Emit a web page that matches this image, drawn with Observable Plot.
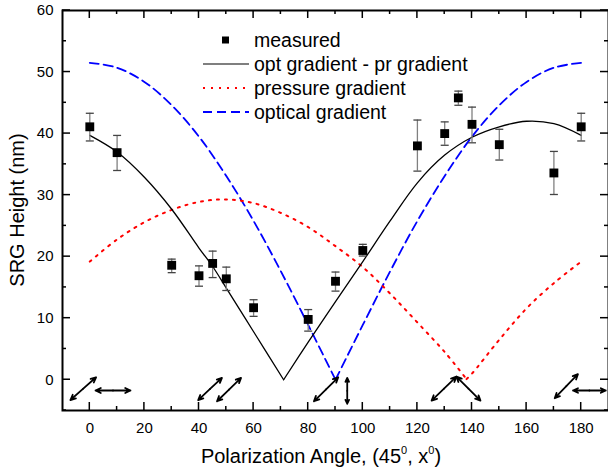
<!DOCTYPE html>
<html><head><meta charset="utf-8">
<script src="https://cdn.jsdelivr.net/npm/d3@7"></script>
<script src="https://cdn.jsdelivr.net/npm/@observablehq/plot@0.6"></script>
<style>body{margin:0;background:#fff} svg{display:block}</style>
</head><body><div id="chart"></div>
<script>
// measured SRG heights (nm) with error bars
const measAngle  = [0, 10, 30, 40, 45, 50, 60, 80, 90, 100, 120, 130, 135, 140, 150, 170, 180];
const measHeight = [41.1, 36.9, 18.6, 16.9, 18.9, 16.4, 11.7, 9.8, 16.0, 21.0, 38.0, 40.0, 45.8, 41.5, 38.2, 33.6, 41.1];
const measLow    = [38.8, 34.0, 17.4, 15.2, 16.6, 14.5, 10.3, 7.9, 14.4, 20.1, 33.9, 38.1, 44.6, 38.5, 35.7, 30.1, 38.8];
const measHigh   = [43.3, 39.7, 19.6, 18.5, 20.9, 18.3, 13.0, 11.4, 17.5, 22.0, 42.2, 41.9, 46.9, 44.3, 40.7, 37.1, 43.3];

// optical gradient (blue dashed)
const optAngle = [0, 10, 20, 30, 40, 50, 60, 70, 80, 90, 100, 110, 120, 130, 140, 150, 160, 170, 180];
const optValue = [51.5, 50.7, 48.4, 44.6, 39.5, 33.1, 25.8, 17.6, 8.9, 0, 8.9, 17.6, 25.8, 33.1, 39.5, 44.6, 48.4, 50.7, 51.5];

// pressure gradient (red dotted)
const prAngle = [0, 10, 20, 30, 40, 50, 60, 70, 80, 90, 100, 110, 120, 130, 138, 140, 150, 160, 170, 180];
const prValue = [19.2, 22.8, 25.6, 27.6, 28.9, 29.3, 28.7, 27.1, 24.8, 21.7, 18.3, 14.0, 9.3, 4.5, 0.1, 1.0, 6.5, 11.6, 15.7, 19.2];

// opt gradient - pr gradient (black solid)
const diffAngle = [0, 10, 20, 30, 40, 45, 50, 60, 71, 80, 90, 100, 110, 120, 130, 140, 150, 160, 170, 180];
const diffValue = [39.7, 37.0, 32.9, 27.7, 21.4, 18.4, 14.9, 7.8, 0, 6.1, 12.7, 19.2, 25.8, 32.0, 36.5, 39.4, 41.1, 42.0, 41.6, 39.7];

// polarization arrows drawn below zero (angle, height) end points
const polX1 = [-7.1, 2.1, 39.7, 46.6, 82.1, 94.3, 125.2, 134.3, 170.3, 177.0];
const polY1 = [-3.3, -1.75, -3.3, -3.5, -3.5, -3.9, -3.4, 0.5, -3.0, -1.75];
const polX2 = [2.3, 14.9, 48.4, 55.4, 91.0, 94.3, 134.3, 143.1, 178.8, 189.0];
const polY2 = [0.4, -1.75, 0.3, 0.3, 0.4, 0.3, 0.5, -3.4, 0.9, -1.75];

const xMajor = [0, 20, 40, 60, 80, 100, 120, 140, 160, 180];
const xMinor = [10, 30, 50, 70, 90, 110, 130, 150, 170];
const yMajor = [0, 10, 20, 30, 40, 50, 60];
const yMinor = [-5, 5, 15, 25, 35, 45, 55];

const legendLabels = ["measured", "opt gradient - pr gradient", "pressure gradient", "optical gradient"];

const meas = measAngle.map((a, i) => ({a, h: measHeight[i], lo: measLow[i], hi: measHigh[i]}));
// split each curve into two branches at its minimum so the V stays sharp
function branches(angles, values) {
  const k = values.indexOf(d3.min(values));
  const out = [];
  angles.forEach((a, i) => {
    if (i <= k) out.push({a, v: values[i], s: 0});
    if (i >= k) out.push({a, v: values[i], s: 1});
  });
  return out;
}
const opt = branches(optAngle, optValue);
const pr = branches(prAngle, prValue);
const diff = branches(diffAngle, diffValue);
const pol = polX1.map((x1, i) => ({x1, y1: polY1[i], x2: polX2[i], y2: polY2[i],
  mx: (x1 + polX2[i]) / 2, my: (polY1[i] + polY2[i]) / 2}));

const font = "'Liberation Sans', Arial, Helvetica, sans-serif";
const cap = {draw(ctx, size) { ctx.moveTo(-4, 0); ctx.lineTo(4, 0); }};

const W = 608, H = 475, mL = 62, mR = 0, mT = 10, mB = 65;

const plot = Plot.plot({
  width: W, height: H,
  marginLeft: mL, marginRight: mR, marginTop: mT, marginBottom: mB,
  style: {fontFamily: font, fontSize: "15px", background: "#fff", color: "#000"},
  x: {domain: [-10, 190]},
  y: {domain: [-5, 60]},
  marks: [
    Plot.axisX(xMajor, {anchor: "bottom", tickSize: 0, tickPadding: 12, label: null, tickFormat: d => d}),
    Plot.axisY(yMajor, {anchor: "left", tickSize: 0, tickPadding: 9, label: null, tickFormat: d => d}),
    Plot.line(opt, {x: "a", y: "v", z: "s", curve: "catmull-rom", stroke: "#0000ff", strokeWidth: 1.8, strokeDasharray: "9,5"}),
    Plot.line(pr, {x: "a", y: "v", z: "s", curve: "catmull-rom", stroke: "#ff0000", strokeWidth: 2, strokeDasharray: "2,6"}),
    Plot.line(diff, {x: "a", y: "v", z: "s", curve: "catmull-rom", stroke: "#000", strokeWidth: 1.3}),
    Plot.ruleX(meas, {x: "a", y1: "lo", y2: "hi", stroke: "#808080", strokeWidth: 1.3}),
    Plot.dot(meas, {x: "a", y: "lo", symbol: cap, stroke: "#444", strokeWidth: 1.3, fill: "none"}),
    Plot.dot(meas, {x: "a", y: "hi", symbol: cap, stroke: "#444", strokeWidth: 1.3, fill: "none"}),
    Plot.dot(meas, {x: "a", y: "h", symbol: "square", r: 5, fill: "#000", stroke: "none"}),
    Plot.arrow(pol, {x1: "mx", y1: "my", x2: "x1", y2: "y1", stroke: "#000", strokeWidth: 1.8, headLength: 9, headAngle: 50}),
    Plot.arrow(pol, {x1: "mx", y1: "my", x2: "x2", y2: "y2", stroke: "#000", strokeWidth: 1.8, headLength: 9, headAngle: 50}),
    Plot.frame({stroke: "#000", strokeWidth: 2})
  ]
});
document.getElementById("chart").appendChild(plot);

const svg = d3.select(plot);
const sx = plot.scale("x"), sy = plot.scale("y");
const x0 = sx.range[0], x1 = sx.range[1];
const yB = Math.max(...sy.range), yT = Math.min(...sy.range);
// inward ticks on all four sides, positioned with Plot's own scales
const tg = svg.append("g").attr("stroke", "#000").attr("stroke-width", 1.5).attr("fill", "none");
function xt(vals, len) {
  vals.forEach(v => {
    const p = sx.apply(v);
    tg.append("path").attr("d", `M${p},${yB}V${yB - len}`);
    tg.append("path").attr("d", `M${p},${yT}V${yT + len}`);
  });
}
function yt(vals, len) {
  vals.forEach(v => {
    const p = sy.apply(v);
    tg.append("path").attr("d", `M${x0},${p}H${x0 + len}`);
    tg.append("path").attr("d", `M${x1},${p}H${x1 - len}`);
  });
}
xt(xMajor, 8); xt(xMinor, 4); yt(yMajor, 8); yt(yMinor, 4);

// axis titles
svg.append("text")
  .attr("transform", "translate(23.5,210) rotate(-90)")
  .attr("text-anchor", "middle")
  .style("font-family", font).style("font-size", "20px").attr("fill", "#000")
  .text("SRG Height (nm)");
const xtl = svg.append("text")
  .attr("x", 321).attr("y", 463)
  .attr("text-anchor", "middle")
  .style("font-family", font).style("font-size", "20px").attr("fill", "#000");
xtl.append("tspan").text("Polarization Angle, (45");
xtl.append("tspan").attr("dy", -9).style("font-size", "11px").text("0");
xtl.append("tspan").attr("dy", 9).text(", x");
xtl.append("tspan").attr("dy", -9).style("font-size", "11px").text("0");
xtl.append("tspan").attr("dy", 9).text(")");

// legend
const lg = svg.append("g").style("font-family", font).style("font-size", "19.5px");
const rows = [40, 64, 88, 112];
lg.append("rect").attr("x", 222).attr("y", rows[0] - 3.5).attr("width", 7).attr("height", 7).attr("fill", "#000");
lg.append("line").attr("x1", 203).attr("x2", 249).attr("y1", rows[1]).attr("y2", rows[1]).attr("stroke", "#000").attr("stroke-width", 1.2);
lg.append("line").attr("x1", 203).attr("x2", 249).attr("y1", rows[2]).attr("y2", rows[2]).attr("stroke", "#ff0000").attr("stroke-width", 2).attr("stroke-dasharray", "2,6");
lg.append("line").attr("x1", 203).attr("x2", 249).attr("y1", rows[3]).attr("y2", rows[3]).attr("stroke", "#0000ff").attr("stroke-width", 1.8).attr("stroke-dasharray", "9,5");
legendLabels.forEach((t, i) => {
  lg.append("text").attr("x", 254).attr("y", rows[i]).attr("dy", "0.35em")
    .attr("text-anchor", "start").attr("fill", "#000").text(t);
});
</script></body></html>
